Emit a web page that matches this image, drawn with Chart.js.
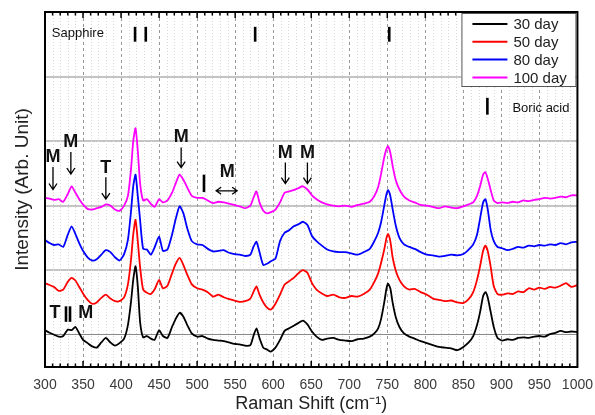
<!DOCTYPE html>
<html>
<head>
<meta charset="utf-8">
<script src="https://cdn.jsdelivr.net/npm/chart.js@4/dist/chart.umd.min.js"></script>
<style>
  html, body { margin: 0; padding: 0; background: #fff; }
</style>
</head>
<body>
<canvas id="raman" width="595" height="415"></canvas>
<script>
// Raman spectra of the oxide film after 30 / 50 / 80 / 100 days (offset stacked)

const shift = [
    300, 306, 312, 318, 324, 330, 335, 340, 345, 350,
    356, 362, 368, 374, 380, 386, 392, 398, 404, 409,
    413, 416, 419, 422, 425, 429, 434, 439, 444, 450,
    455, 461, 467, 472, 477, 482, 487, 493, 500, 507,
    514, 521, 528, 535, 542, 549, 556, 563, 570, 574,
    578, 582, 587, 592, 597, 603, 609, 615, 621, 627,
    633, 639, 645, 651, 657, 664, 671, 679, 687, 695,
    703, 711, 719, 727, 733, 738, 742, 746, 749, 751,
    754, 757, 761, 766, 772, 779, 786, 794, 802, 810,
    818, 826, 834, 842, 850, 857, 863, 868, 872, 876,
    879, 882, 886, 890, 895, 901, 908, 915, 922, 929,
    936, 943, 950, 957, 964, 971, 978, 985, 992, 1000
];

const day30 = [
    0.07, 0.03, 0.00, -0.03, -0.02, 0.08, 0.07, 0.12, 0.02, -0.08,
    -0.13, -0.18, -0.20, -0.12, -0.05, -0.12, -0.17, -0.13, -0.06, 0.15,
    0.50, 0.85, 1.06, 0.75, 0.20, -0.04, -0.02, -0.06, -0.08, 0.07,
    -0.02, -0.05, 0.12, 0.25, 0.34, 0.28, 0.15, 0.02, -0.03, -0.02,
    -0.06, -0.08, -0.09, -0.10, -0.12, -0.14, -0.15, -0.17, -0.16, -0.02,
    0.10, -0.05, -0.20, -0.23, -0.26, -0.20, -0.08, 0.06, 0.10, 0.14,
    0.18, 0.22, 0.16, 0.05, -0.03, -0.08, -0.06, -0.05, -0.08, -0.09,
    -0.10, -0.07, -0.06, -0.03, 0.02, 0.10, 0.25, 0.50, 0.72, 0.79,
    0.72, 0.50, 0.28, 0.12, 0.02, -0.03, -0.06, -0.10, -0.13, -0.16,
    -0.19, -0.20, -0.21, -0.24, -0.19, -0.12, -0.02, 0.15, 0.35, 0.60,
    0.66, 0.58, 0.35, 0.12, -0.05, -0.09, -0.07, -0.08, -0.05, -0.04,
    -0.05, -0.03, -0.02, -0.03, 0.01, 0.03, 0.06, 0.04, 0.05, 0.04
];

const day50 = [
    0.80, 0.77, 0.74, 0.68, 0.70, 0.82, 0.88, 0.84, 0.74, 0.64,
    0.54, 0.48, 0.50, 0.57, 0.62, 0.56, 0.52, 0.52, 0.58, 0.78,
    1.15, 1.55, 1.78, 1.45, 1.05, 0.70, 0.65, 0.63, 0.70, 0.85,
    0.72, 0.76, 0.95, 1.10, 1.19, 1.08, 0.93, 0.78, 0.72, 0.70,
    0.66, 0.59, 0.62, 0.58, 0.55, 0.53, 0.51, 0.52, 0.56, 0.66,
    0.75, 0.62, 0.50, 0.42, 0.39, 0.48, 0.62, 0.78, 0.83, 0.88,
    0.95, 1.00, 0.96, 0.80, 0.70, 0.64, 0.60, 0.62, 0.58, 0.57,
    0.60, 0.59, 0.63, 0.70, 0.82, 0.95, 1.12, 1.32, 1.50, 1.56,
    1.45, 1.20, 1.00, 0.85, 0.75, 0.70, 0.71, 0.66, 0.62, 0.56,
    0.54, 0.52, 0.53, 0.50, 0.49, 0.55, 0.66, 0.85, 1.06, 1.30,
    1.38, 1.30, 1.05, 0.75, 0.63, 0.62, 0.64, 0.63, 0.67, 0.66,
    0.72, 0.70, 0.73, 0.71, 0.74, 0.73, 0.76, 0.80, 0.74, 0.77
];

const day80 = [
    1.47, 1.42, 1.39, 1.40, 1.36, 1.55, 1.68, 1.56, 1.42, 1.30,
    1.20, 1.15, 1.17, 1.24, 1.31, 1.28, 1.20, 1.15, 1.25, 1.47,
    1.90, 2.30, 2.48, 2.15, 1.78, 1.33, 1.32, 1.24, 1.35, 1.52,
    1.30, 1.32, 1.55, 1.80, 1.99, 1.88, 1.65, 1.45, 1.40, 1.39,
    1.33, 1.29, 1.30, 1.31, 1.27, 1.25, 1.24, 1.22, 1.24, 1.36,
    1.44, 1.28, 1.08, 1.10, 1.14, 1.18, 1.45, 1.58, 1.62, 1.68,
    1.71, 1.75, 1.70, 1.53, 1.45, 1.38, 1.32, 1.29, 1.28, 1.28,
    1.26, 1.24, 1.28, 1.33, 1.45, 1.58, 1.75, 2.00, 2.18, 2.24,
    2.15, 1.95, 1.70, 1.50, 1.40, 1.36, 1.33, 1.28, 1.24, 1.23,
    1.21, 1.22, 1.24, 1.23, 1.25, 1.32, 1.40, 1.55, 1.80, 2.05,
    2.10, 1.95, 1.62, 1.45, 1.36, 1.34, 1.31, 1.33, 1.36, 1.35,
    1.38, 1.37, 1.39, 1.38, 1.40, 1.39, 1.42, 1.40, 1.43, 1.44
];

const day100 = [
    2.12, 2.11, 2.09, 2.10, 2.06, 2.18, 2.30, 2.20, 2.10, 2.02,
    1.95, 1.94, 1.96, 1.98, 2.02, 2.00, 1.94, 1.92, 2.00, 2.15,
    2.55, 3.00, 3.20, 2.85, 2.35, 2.08, 2.10, 2.03, 1.98, 2.10,
    2.05, 2.08, 2.20, 2.35, 2.48, 2.40, 2.28, 2.15, 2.12, 2.12,
    2.08, 2.04, 2.06, 2.05, 2.03, 2.01, 1.99, 1.96, 2.00, 2.12,
    2.22, 2.05, 1.92, 1.88, 1.90, 1.94, 2.05, 2.20, 2.22, 2.24,
    2.27, 2.30, 2.25, 2.16, 2.10, 2.05, 2.02, 2.00, 1.99, 2.00,
    1.98, 2.01, 2.03, 2.06, 2.15, 2.29, 2.50, 2.75, 2.88, 2.92,
    2.82, 2.62, 2.40, 2.25, 2.14, 2.08, 2.05, 2.01, 2.00, 1.98,
    1.96, 1.99, 1.97, 1.96, 1.99, 2.02, 2.05, 2.15, 2.30, 2.48,
    2.52, 2.42, 2.24, 2.08, 2.04, 2.05, 2.04, 2.06, 2.05, 2.08,
    2.07, 2.09, 2.10, 2.12, 2.11, 2.12, 2.14, 2.13, 2.16, 2.16
];

const seriesNames = ['30 day', '50 day', '80 day', '100 day'];
const seriesColors = ['#000000', '#ff0000', '#0000ff', '#ff00ff'];
const xTicks = [300, 350, 400, 450, 500, 550, 600, 650, 700, 750, 800, 850, 900, 950, 1000];

// peak labels: [text, shift, intensity]
const peakLabels = [
    ['M', 310.5, 2.76], ['M', 334, 2.99], ['T', 380, 2.59], ['M', 479, 3.07],
    ['M', 539.5, 2.52], ['M', 616, 2.82], ['M', 645, 2.82],
    ['T', 313, 0.33], ['M', 353.5, 0.33]
];
// downward arrows: [shift, from, to]
const downArrows = [
    [310.5, 2.60, 2.25], [334, 2.83, 2.49], [380, 2.44, 2.10], [479, 2.90, 2.59],
    [616, 2.67, 2.34], [645, 2.67, 2.34]
];
// reference bars: [shift, from, to]
const refBars = [
    [418.4, 4.77, 4.54], [432.5, 4.77, 4.54], [576.3, 4.77, 4.54], [752.6, 4.77, 4.54],
    [881.6, 3.67, 3.41], [509, 2.48, 2.21], [327.6, 0.44, 0.20], [332.9, 0.44, 0.20]
];
const refNotes = [['Sapphire', 309, 4.67], ['Boric acid', 914.5, 3.51]];

const FONT = '"Liberation Sans", Arial, sans-serif';

const decor = {
    id: 'decor',
    beforeDatasetsDraw(chart) {
        const { ctx, chartArea: a, scales: { x } } = chart;
        ctx.save();
        ctx.lineWidth = 1;
        for (let v = 300; v <= 1000; v += 10) {
            const px = Math.round(x.getPixelForValue(v)) + 0.5;
            const major = v % 50 === 0;
            ctx.strokeStyle = major ? '#999' : '#d8d8d8';
            ctx.setLineDash(major ? [3, 3] : [1, 2]);
            ctx.beginPath();
            ctx.moveTo(px, a.top);
            ctx.lineTo(px, a.bottom);
            ctx.stroke();
        }
        ctx.restore();
    },
    afterDatasetsDraw(chart) {
        const { ctx, chartArea: a, scales: { x, y } } = chart;
        ctx.save();

        // frame + inward ticks top and bottom
        ctx.strokeStyle = '#000';
        ctx.lineWidth = 2;
        ctx.strokeRect(a.left, a.top, a.right - a.left, a.bottom - a.top);
        ctx.lineWidth = 1.5;
        for (let v = 310; v < 1000; v += 10) {
            const px = x.getPixelForValue(v);
            const len = v % 50 === 0 ? 6 : 3.5;
            ctx.beginPath();
            ctx.moveTo(px, a.bottom); ctx.lineTo(px, a.bottom - len);
            ctx.moveTo(px, a.top); ctx.lineTo(px, a.top + len);
            ctx.stroke();
        }

        // reference bars
        ctx.lineWidth = 2.6;
        refBars.forEach(([s, y0, y1]) => {
            const px = x.getPixelForValue(s);
            ctx.beginPath();
            ctx.moveTo(px, y.getPixelForValue(y0));
            ctx.lineTo(px, y.getPixelForValue(y1));
            ctx.stroke();
        });

        ctx.fillStyle = '#111';
        ctx.textBaseline = 'middle';
        ctx.textAlign = 'left';
        ctx.font = '13px ' + FONT;
        refNotes.forEach(([t, s, v]) => ctx.fillText(t, x.getPixelForValue(s), y.getPixelForValue(v)));

        ctx.textAlign = 'center';
        ctx.font = 'bold 18px ' + FONT;
        peakLabels.forEach(([t, s, v]) => ctx.fillText(t, x.getPixelForValue(s), y.getPixelForValue(v)));

        // arrows
        ctx.lineWidth = 1.3;
        downArrows.forEach(([s, y0, y1]) => {
            const px = x.getPixelForValue(s);
            const py1 = y.getPixelForValue(y1);
            ctx.beginPath();
            ctx.moveTo(px, y.getPixelForValue(y0));
            ctx.lineTo(px, py1);
            ctx.moveTo(px - 4, py1 - 6); ctx.lineTo(px, py1); ctx.lineTo(px + 4, py1 - 6);
            ctx.stroke();
        });
        const hx0 = x.getPixelForValue(525), hx1 = x.getPixelForValue(552.6), hy = y.getPixelForValue(2.23);
        ctx.beginPath();
        ctx.moveTo(hx0, hy); ctx.lineTo(hx1, hy);
        ctx.moveTo(hx0 + 5, hy - 3.5); ctx.lineTo(hx0, hy); ctx.lineTo(hx0 + 5, hy + 3.5);
        ctx.moveTo(hx1 - 5, hy - 3.5); ctx.lineTo(hx1, hy); ctx.lineTo(hx1 - 5, hy + 3.5);
        ctx.stroke();

        // legend box, top right inside the plot
        const bx = a.right - 116, by = a.top + 1, bw = 114, bh = 73;
        ctx.fillStyle = '#fff';
        ctx.fillRect(bx, by, bw, bh);
        ctx.strokeStyle = '#555';
        ctx.lineWidth = 1;
        ctx.strokeRect(bx + 0.5, by + 0.5, bw, bh);
        ctx.font = '15px ' + FONT;
        ctx.textAlign = 'left';
        chart.data.datasets.forEach((ds, i) => {
            const ry = by + 11 + i * 17.8;
            ctx.strokeStyle = ds.borderColor;
            ctx.lineWidth = 2;
            ctx.beginPath();
            ctx.moveTo(bx + 11, ry); ctx.lineTo(bx + 46, ry);
            ctx.stroke();
            ctx.fillStyle = '#222';
            ctx.fillText(ds.label, bx + 52, ry + 1);
        });
        ctx.restore();
    }
};

const datasets = [day30, day50, day80, day100].map((vals, i) => ({
    label: seriesNames[i],
    data: shift.map((s, j) => ({ x: s, y: vals[j] })),
    borderColor: seriesColors[i],
    borderWidth: 1.8,
    pointRadius: 0,
    tension: 0.2,
    fill: false
}));

new Chart(document.getElementById('raman'), {
    type: 'line',
    data: { datasets },
    options: {
        responsive: false,
        animation: false,
        layout: { padding: { top: 12, right: 17, left: 0, bottom: 0 } },
        plugins: { legend: { display: false }, tooltip: { enabled: false } },
        scales: {
            x: {
                type: 'linear',
                min: 300,
                max: 1000,
                afterBuildTicks: (scale) => { scale.ticks = xTicks.map(v => ({ value: v })); },
                afterFit: (scale) => { scale.height = 48; },
                grid: { display: false },
                border: { display: false },
                ticks: {
                    color: '#3a3a3a',
                    font: { family: FONT, size: 14 },
                    padding: 2,
                    maxRotation: 0,
                    autoSkip: false,
                    callback: (v) => String(v)
                },
                title: {
                    display: true,
                    text: 'Raman Shift (cm\u207B\u00B9)',
                    color: '#222',
                    font: { family: FONT, size: 18 },
                    padding: { top: 0, bottom: 0 }
                }
            },
            y: {
                min: -0.5,
                max: 5,
                ticks: { display: false, stepSize: 1 },
                afterFit: (scale) => { scale.width = 45; },
                border: { display: false },
                grid: {
                    drawTicks: false,
                    color: (c) => {
                        const v = c.tick.value;
                        if (v === 0) return '#8a8a8a';
                        if (v > 0 && v < 5 && Number.isInteger(v)) return '#c4c4c4';
                        return 'rgba(0,0,0,0)';
                    },
                    lineWidth: (c) => (c.tick.value === 0 ? 1 : 2)
                },
                title: {
                    display: true,
                    text: 'Intensity (Arb. Unit)',
                    color: '#222',
                    font: { family: FONT, size: 19 },
                    padding: { top: 11, bottom: 0 }
                }
            }
        }
    },
    plugins: [decor]
});
</script>
</body>
</html>
